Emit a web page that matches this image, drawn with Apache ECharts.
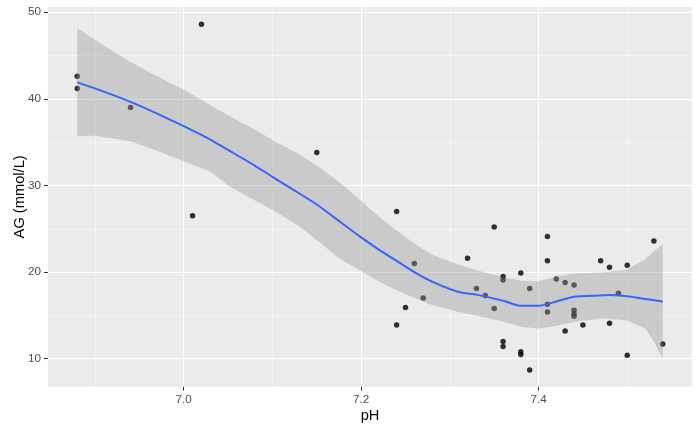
<!DOCTYPE html>
<html><head><meta charset="utf-8">
<script src="https://cdn.jsdelivr.net/npm/echarts@6/dist/echarts.min.js"></script>
<style>html,body{margin:0;padding:0;background:#fff}#c{width:700px;height:432px}</style>
</head><body><div id="c"></div>
<script>
// Observed points
const pH = [6.88, 6.88, 6.94, 7.02, 7.01, 7.15, 7.24, 7.35, 7.41, 7.53, 7.32, 7.41, 7.47, 7.26, 7.48,
  7.50, 7.38, 7.36, 7.36, 7.42, 7.43, 7.44, 7.33, 7.39, 7.49, 7.34, 7.27, 7.41, 7.25, 7.35,
  7.44, 7.41, 7.44, 7.44, 7.24, 7.45, 7.48, 7.43, 7.36, 7.36, 7.54, 7.38, 7.38, 7.50, 7.39];
const AG = [42.6, 41.2, 39.0, 48.6, 26.5, 33.8, 27.0, 25.2, 24.1, 23.6, 21.6, 21.3, 21.3, 21.0, 20.55,
  20.8, 19.9, 19.5, 19.1, 19.2, 18.8, 18.5, 18.1, 18.1, 17.55, 17.3, 17.0, 16.3, 15.9, 15.8,
  15.6, 15.4, 15.2, 14.9, 13.9, 13.9, 14.1, 13.2, 12.0, 11.4, 11.7, 10.8, 10.5, 10.4, 8.7];

// Smoothed fit (loess) and its confidence band
const fitPH = [6.88, 6.90, 6.94, 6.97, 7.00, 7.03, 7.05, 7.08, 7.10, 7.13, 7.15, 7.175, 7.20, 7.22,
  7.24, 7.26, 7.28, 7.31, 7.33, 7.36, 7.38, 7.40, 7.42, 7.44, 7.47, 7.48, 7.50, 7.52, 7.53, 7.54];
const fitAG = [41.9, 41.2, 39.65, 38.3, 36.85, 35.3, 34.1, 32.3, 31.0, 29.1, 27.8, 25.9, 24.0, 22.6,
  21.3, 20.0, 18.9, 17.7, 17.4, 16.7, 16.1, 16.1, 16.6, 17.15, 17.3, 17.35, 17.2, 16.9, 16.75, 16.6];
const fitUpper = [48.2, 46.8, 44.25, 42.6, 41.05, 39.3, 38.1, 36.45, 35.25, 33.6, 32.3, 30.4, 28.2, 26.4,
  24.8, 23.3, 22.0, 20.85, 20.2, 19.4, 19.0, 18.9, 19.5, 19.85, 19.95, 20.05, 20.3, 21.45, 22.4, 23.2];
const fitLower = [35.7, 35.75, 35.1, 34.0, 32.8, 31.6, 30.0, 28.3, 27.2, 25.3, 23.7, 21.6, 20.1, 18.9,
  17.9, 17.0, 16.2, 15.4, 15.0, 14.3, 13.7, 13.5, 13.8, 14.25, 14.65, 14.6, 14.4, 13.5, 12.0, 10.0];

// Axis ticks
const xTicks = [7.0, 7.2, 7.4];
const xMinor = [6.9, 7.1, 7.3, 7.5];
const yTicks = [10, 20, 30, 40, 50];
const yMinor = [15, 25, 35, 45];

const FONT = 'Liberation Sans, Arial, sans-serif';
const X_MIN = 6.847, X_MAX = 7.573, Y_MIN = 6.77, Y_MAX = 50.6;

const chart = echarts.init(document.getElementById('c'), null, {renderer: 'canvas'});
const points = pH.map((x, i) => [x, AG[i]]);
const fitLine = fitPH.map((x, i) => [x, fitAG[i]]);

chart.setOption({
  animation: false,
  backgroundColor: '#ffffff',
  textStyle: {fontFamily: FONT},
  grid: {left: 48, right: 8, top: 7, bottom: 45.3, show: true, backgroundColor: '#EBEBEB', borderWidth: 0,
         outerBoundsMode: 'none', containLabel: false},
  xAxis: [
    {
      type: 'value', min: X_MIN, max: X_MAX, position: 'bottom',
      axisLine: {show: false},
      axisTick: {show: true, length: 4, lineStyle: {color: '#333333', width: 1}, customValues: xTicks},
      axisLabel: {customValues: xTicks, formatter: v => v.toFixed(1), color: '#4D4D4D', fontSize: 11.7, margin: 7, fontFamily: FONT},
      splitLine: {show: true, lineStyle: {color: '#FFFFFF', width: 1.1}},
      name: 'pH', nameLocation: 'middle', nameGap: 22, nameMoveOverlap: false,
      nameTextStyle: {color: '#000000', fontSize: 14.67, fontFamily: FONT}
    },
    {
      type: 'value', min: X_MIN, max: X_MAX, position: 'bottom',
      axisLine: {show: false},
      axisTick: {show: false, customValues: xMinor},
      axisLabel: {show: false},
      splitLine: {show: true, lineStyle: {color: '#FAFAFA', width: 0.6}}
    }
  ],
  yAxis: [
    {
      type: 'value', min: Y_MIN, max: Y_MAX, position: 'left',
      axisLine: {show: false},
      axisTick: {show: true, length: 4, lineStyle: {color: '#333333', width: 1}, customValues: yTicks},
      axisLabel: {customValues: yTicks, formatter: v => String(v), color: '#4D4D4D', fontSize: 11.7, margin: 7, fontFamily: FONT},
      splitLine: {show: true, lineStyle: {color: '#FFFFFF', width: 1.1}},
      name: 'AG (mmol/L)', nameLocation: 'middle', nameGap: 21, nameMoveOverlap: false,
      nameTextStyle: {color: '#000000', fontSize: 14.67, fontFamily: FONT}
    },
    {
      type: 'value', min: Y_MIN, max: Y_MAX, position: 'left',
      axisLine: {show: false},
      axisTick: {show: false, customValues: yMinor},
      axisLabel: {show: false},
      splitLine: {show: true, lineStyle: {color: '#FAFAFA', width: 0.6}}
    }
  ],
  series: [
    {
      type: 'scatter', xAxisIndex: 0, yAxisIndex: 0, z: 2,
      data: points, symbol: 'circle', symbolSize: 5.5,
      itemStyle: {color: '#000000'}, silent: true
    },
    {
      type: 'custom', xAxisIndex: 0, yAxisIndex: 0, z: 3, silent: true,
      data: [[fitPH[0], fitLower[0]]],
      encode: {x: 0, y: 1},
      renderItem: function (params, api) {
        const pts = [];
        for (let i = 0; i < fitPH.length; i++) pts.push(api.coord([fitPH[i], fitUpper[i]]));
        for (let i = fitPH.length - 1; i >= 0; i--) pts.push(api.coord([fitPH[i], fitLower[i]]));
        return {type: 'polygon', shape: {points: pts, smooth: 0}, style: {fill: 'rgba(153,153,153,0.4)'}};
      }
    },
    {
      type: 'line', xAxisIndex: 0, yAxisIndex: 0, z: 4, silent: true,
      data: fitLine, showSymbol: false, smooth: 0.2,
      lineStyle: {color: '#3366FF', width: 2}
    }
  ]
});
</script>
</body></html>
